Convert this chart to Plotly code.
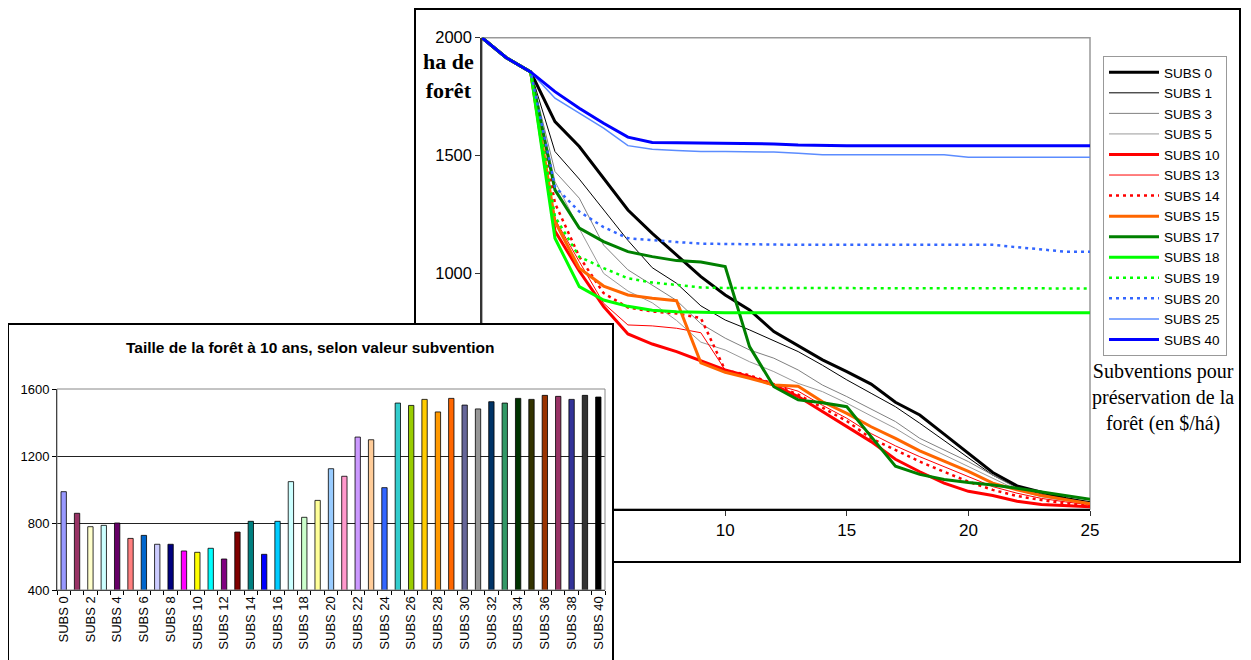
import plotly.graph_objects as go

W, H = 1251, 660
OFF = 8  # page body margin of the html page

# ---------------- data: line chart ----------------
years = list(range(26))

subs_0 = [2000,1915,1855,1644,1538,1404,1269,1170,1078,986,908,845,753,692,633,583,530,453,399,318,236,155,98,70,45,26]
subs_1 = [2000,1915,1855,1517,1400,1269,1140,1024,958,862,802,760,715,668,610,548,491,434,364,291,215,144,92,63,41,23]
subs_3 = [2000,1915,1855,1432,1319,1120,1015,951,885,786,725,675,640,590,526,477,425,371,300,250,201,144,88,59,41,27]
subs_5 = [2000,1915,1855,1390,1190,1000,925,875,800,708,675,625,583,533,498,449,395,342,279,229,180,130,81,52,35,24]
subs_10 = [2000,1915,1855,1180,1010,859,743,700,668,630,590,562,526,477,413,352,286,211,158,110,75,57,33,19,13,10]
subs_13 = [2000,1915,1855,1230,1050,873,781,777,767,748,590,565,530,500,440,385,320,268,222,180,135,95,67,45,30,18]
subs_14 = [2000,1915,1855,1298,1071,916,855,838,830,810,588,568,530,485,430,373,300,250,201,158,116,81,55,38,24,14]
subs_15 = [2000,1915,1855,1220,1022,946,908,894,884,620,580,555,526,521,455,406,349,300,247,205,160,110,81,57,38,22]
subs_17 = [2000,1915,1855,1354,1192,1135,1092,1071,1054,1048,1029,689,519,463,451,434,307,182,147,125,112,102,88,73,57,41]
subs_18 = [2000,1915,1855,1149,944,887,860,843,837,834,833,833,833,833,833,833,833,833,833,833,833,833,833,833,833,833]
subs_19 = [2000,1915,1855,1241,1070,1022,979,961,951,940,938,938,938,937,936,936,936,936,936,936,936,936,936,936,936,936]
subs_20 = [2000,1915,1855,1368,1262,1196,1149,1140,1133,1126,1124,1122,1121,1121,1121,1121,1121,1121,1121,1121,1121,1121,1111,1102,1092,1092]
subs_25 = [2000,1915,1855,1743,1680,1616,1542,1527,1521,1517,1517,1516,1515,1510,1503,1503,1503,1503,1503,1503,1493,1493,1493,1493,1493,1493]
subs_40 = [2000,1915,1855,1771,1701,1637,1578,1555,1554,1553,1552,1552,1549,1545,1542,1542,1542,1542,1542,1542,1542,1542,1542,1542,1542,1542]

line_names = ["SUBS 0","SUBS 1","SUBS 3","SUBS 5","SUBS 10","SUBS 13","SUBS 14",
              "SUBS 15","SUBS 17","SUBS 18","SUBS 19","SUBS 20","SUBS 25","SUBS 40"]
line_values = [subs_0, subs_1, subs_3, subs_5, subs_10, subs_13, subs_14,
               subs_15, subs_17, subs_18, subs_19, subs_20, subs_25, subs_40]
line_colors = ["#000000","#000000","#808080","#999999","#FF0000","#FF0000","#FF0000",
               "#FF6600","#008000","#00FF00","#00FF00","#3366FF","#5B8CFF","#0000FF"]
line_widths = [3, 1, 1, 1, 3, 1, 2.5, 3, 3, 3, 2.5, 2.5, 1.5, 3]
line_dashes = ["solid","solid","solid","solid","solid","solid","3px,4px",
               "solid","solid","solid","3px,4px","3px,4px","solid","solid"]

# ---------------- data: bar chart ----------------
bar_categories = ["SUBS %d" % i for i in range(41)]
bar_values = [987,858,778,786,800,708,726,673,673,633,625,649,585,746,810,613,810,1047,834,935,
              1124,1079,1313,1297,1011,1516,1502,1538,1463,1544,1504,1481,1524,1516,1544,1538,
              1562,1556,1538,1562,1552]
bar_colors = ["#9999FF","#993366","#FFFFCC","#CCFFFF","#660066","#FF8080","#0066CC","#CCCCFF",
              "#000080","#FF00FF","#FFFF00","#00FFFF","#800080","#800000","#008080","#0000FF",
              "#00CCFF","#CCFFFF","#CCFFCC","#FFFF99","#99CCFF","#FF99CC","#CC99FF","#FFCC99",
              "#3366FF","#33CCCC","#99CC00","#FFCC00","#FF9900","#FF6600","#666699","#969696",
              "#003366","#339966","#003300","#333300","#993300","#993366","#333399","#333333",
              "#000000"]

SANS = "Liberation Sans, Arial, sans-serif"
SERIF = "Liberation Serif, Times New Roman, serif"

def px_x(p):
    return (p - OFF) / W

def px_y(p):
    return 1 - (p - OFF) / H

fig = go.Figure()

for name, vals, col, wd, ds in zip(line_names, line_values, line_colors, line_widths, line_dashes):
    fig.add_trace(go.Scatter(x=years, y=vals, name=name, mode="lines",
                             line=dict(color=col, width=wd, dash=ds),
                             xaxis="x", yaxis="y"))

# inset frame subplot (empty)
fig.add_trace(go.Scatter(x=[], y=[], xaxis="x2", yaxis="y2", showlegend=False, hoverinfo="skip"))

bar_pos = list(range(len(bar_categories)))
fig.add_trace(go.Bar(x=bar_pos, y=bar_values, xaxis="x3", yaxis="y3", showlegend=False,
                     width=0.4, marker=dict(color=bar_colors, line=dict(color="black", width=0.8))))

fig.update_layout(
    template="none",
    width=W, height=H,
    margin=dict(l=0, r=0, t=0, b=0, pad=0, autoexpand=False),
    paper_bgcolor="white", plot_bgcolor="white",
    font=dict(family=SANS, color="black"),
    xaxis=dict(domain=[px_x(482), px_x(1090)], range=[0, 25], anchor="y", automargin=False,
               tickvals=[10, 15, 20, 25], ticks="outside", ticklen=5, tickcolor="#333",
               showline=True, linecolor="black", linewidth=1.5, showgrid=False, zeroline=False,
               tickfont=dict(size=17, family=SANS)),
    yaxis=dict(domain=[px_y(509), px_y(37.7)], range=[0, 2000], anchor="x", automargin=False,
               tickvals=[1000, 1500, 2000], ticks="outside", ticklen=5, tickcolor="#333",
               showline=True, linecolor="#333", linewidth=1.5, showgrid=False, zeroline=False,
               tickfont=dict(size=16.5, family=SANS)),
    xaxis2=dict(domain=[px_x(9), px_x(612)], range=[0, 1], anchor="y2", side="top", automargin=False,
                showline=True, linecolor="black", linewidth=2, showticklabels=False,
                ticks="", showgrid=False, zeroline=False, fixedrange=True),
    yaxis2=dict(domain=[0, px_y(325)], range=[0, 1], anchor="x2", mirror=True, automargin=False,
                showline=True, linecolor="black", linewidth=2, showticklabels=False,
                ticks="", showgrid=False, zeroline=False, fixedrange=True),
    xaxis3=dict(domain=[px_x(57), px_x(605)], range=[-0.5, 40.5], anchor="y3", automargin=False,
                tickvals=bar_pos[::2], ticktext=bar_categories[::2], tickangle=-90,
                ticks="", showline=True, linecolor="black", linewidth=1, showgrid=False,
                zeroline=False, tickfont=dict(size=13, family=SANS),
                minor=dict(tickvals=[i - 0.5 for i in range(42)], ticks="outside",
                           ticklen=4, tickcolor="black")),
    yaxis3=dict(domain=[px_y(590), px_y(389)], range=[400, 1600], anchor="x3", automargin=False,
                tickvals=[400, 800, 1200, 1600], ticks="outside", ticklen=4, tickcolor="black",
                showline=True, linecolor="black", linewidth=1, showgrid=True,
                gridcolor="#222", gridwidth=1, zeroline=False,
                tickfont=dict(size=13, family=SANS)),
    legend=dict(x=px_x(1103), y=px_y(56), xanchor="left", yanchor="top",
                bgcolor="white", bordercolor="#999", borderwidth=1,
                font=dict(size=13.5, family=SANS), itemwidth=50, tracegroupgap=0),
    showlegend=True,
)

# frames
fig.add_shape(type="rect", xref="paper", yref="paper", x0=px_x(415), x1=px_x(1240),
              y0=px_y(562), y1=px_y(9), line=dict(color="black", width=2), layer="below")
fig.add_shape(type="rect", xref="x domain", yref="y domain", x0=0, x1=1, y0=0, y1=1,
              line=dict(color="#999", width=1.5), layer="below")
fig.add_shape(type="rect", xref="x3 domain", yref="y3 domain", x0=0, x1=1, y0=0, y1=1,
              line=dict(color="#888", width=1), layer="above")

fig.add_annotation(x=px_x(449), y=px_y(76), xref="paper", yref="paper", showarrow=False,
                   text="<b>ha de<br>forêt</b>", xanchor="center", yanchor="middle",
                   font=dict(family=SERIF, size=22, color="black"))
fig.add_annotation(x=px_x(1163), y=px_y(397), xref="paper", yref="paper", showarrow=False,
                   text="Subventions pour<br>préservation de la<br>forêt (en $/há)",
                   xanchor="center", yanchor="middle", align="center",
                   font=dict(family=SERIF, size=20, color="black"))
fig.add_annotation(x=px_x(310), y=px_y(347), xref="paper", yref="paper", showarrow=False,
                   text="<b>Taille de la forêt à 10 ans, selon valeur subvention</b>",
                   xanchor="center", yanchor="middle",
                   font=dict(family=SANS, size=15.5, color="black"))

fig.write_html("out.html")
